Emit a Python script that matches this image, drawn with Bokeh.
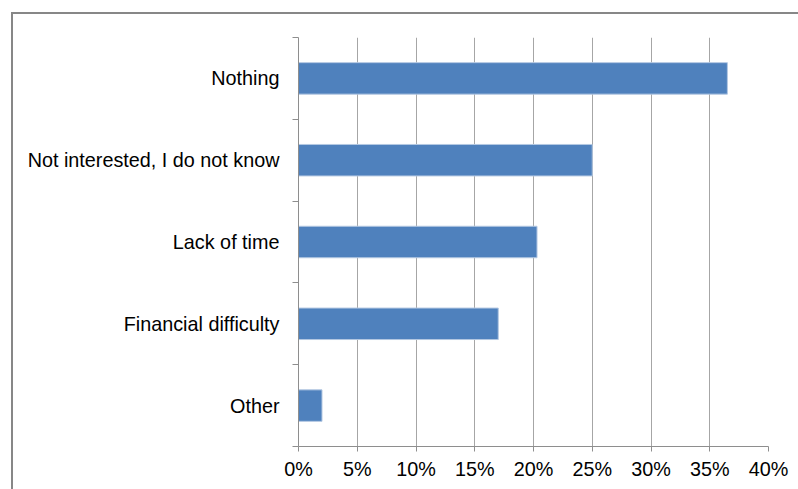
from bokeh.plotting import figure
from bokeh.models import Range1d, FixedTicker, NumeralTickFormatter, ColumnDataSource
from bokeh.embed import file_html
from bokeh.resources import INLINE

categories = ["Nothing", "Not interested, I do not know", "Lack of time", "Financial difficulty", "Other"]
values = [0.365, 0.25, 0.203, 0.170, 0.020]
x_ticks = [0.0, 0.05, 0.10, 0.15, 0.20, 0.25, 0.30, 0.35, 0.40]

n = len(categories)
ypos = [n - 1 - i for i in range(n)]
src = ColumnDataSource(dict(y=ypos, v=values, c=categories))

FONT = "Liberation Sans"
FS = "19.8px"

p = figure(width=787, height=477, output_backend="svg", toolbar_location=None,
           x_range=Range1d(0, 0.4), y_range=Range1d(-0.5, n - 0.5),
           min_border_left=285, min_border_top=23, min_border_right=32, min_border_bottom=45)
p.margin = (12, 0, 0, 11)
p.styles = {"border-left": "2px solid #878787", "border-top": "2px solid #878787"}
p.outline_line_color = None
p.background_fill_color = "white"
p.border_fill_color = "white"

p.hbar(y="y", right="v", left=0, height=0.385, source=src,
       fill_color="#4F81BD", line_color="#B4C8E2", line_width=1)

# x axis
xa = p.xaxis[0]
xa.ticker = FixedTicker(ticks=x_ticks)
xa.formatter = NumeralTickFormatter(format="0%")
xa.axis_line_color = "#8E8E8E"
xa.major_tick_line_color = "#8E8E8E"
xa.major_tick_out = 5
xa.major_tick_in = 0
xa.minor_tick_line_color = None
xa.major_label_standoff = 6
xa.major_label_text_font = FONT
xa.major_label_text_font_size = FS
xa.major_label_text_color = "#000000"

# y axis
ya = p.yaxis[0]
ya.ticker = FixedTicker(ticks=ypos, minor_ticks=[k - 0.5 for k in range(n + 1)])
ya.major_label_overrides = {y: c for y, c in zip(ypos, categories)}
ya.axis_line_color = "#8E8E8E"
ya.major_tick_line_color = None
ya.major_tick_out = 0
ya.major_tick_in = 0
ya.minor_tick_line_color = "#8E8E8E"
ya.minor_tick_out = 6
ya.minor_tick_in = 0
ya.major_label_standoff = 13
ya.major_label_text_font = FONT
ya.major_label_text_font_size = FS
ya.major_label_text_color = "#000000"

p.xgrid.grid_line_color = "#A6A6A6"
p.xgrid.ticker = FixedTicker(ticks=x_ticks)
p.ygrid.grid_line_color = None

open("out.html", "w").write(file_html(p, INLINE))
